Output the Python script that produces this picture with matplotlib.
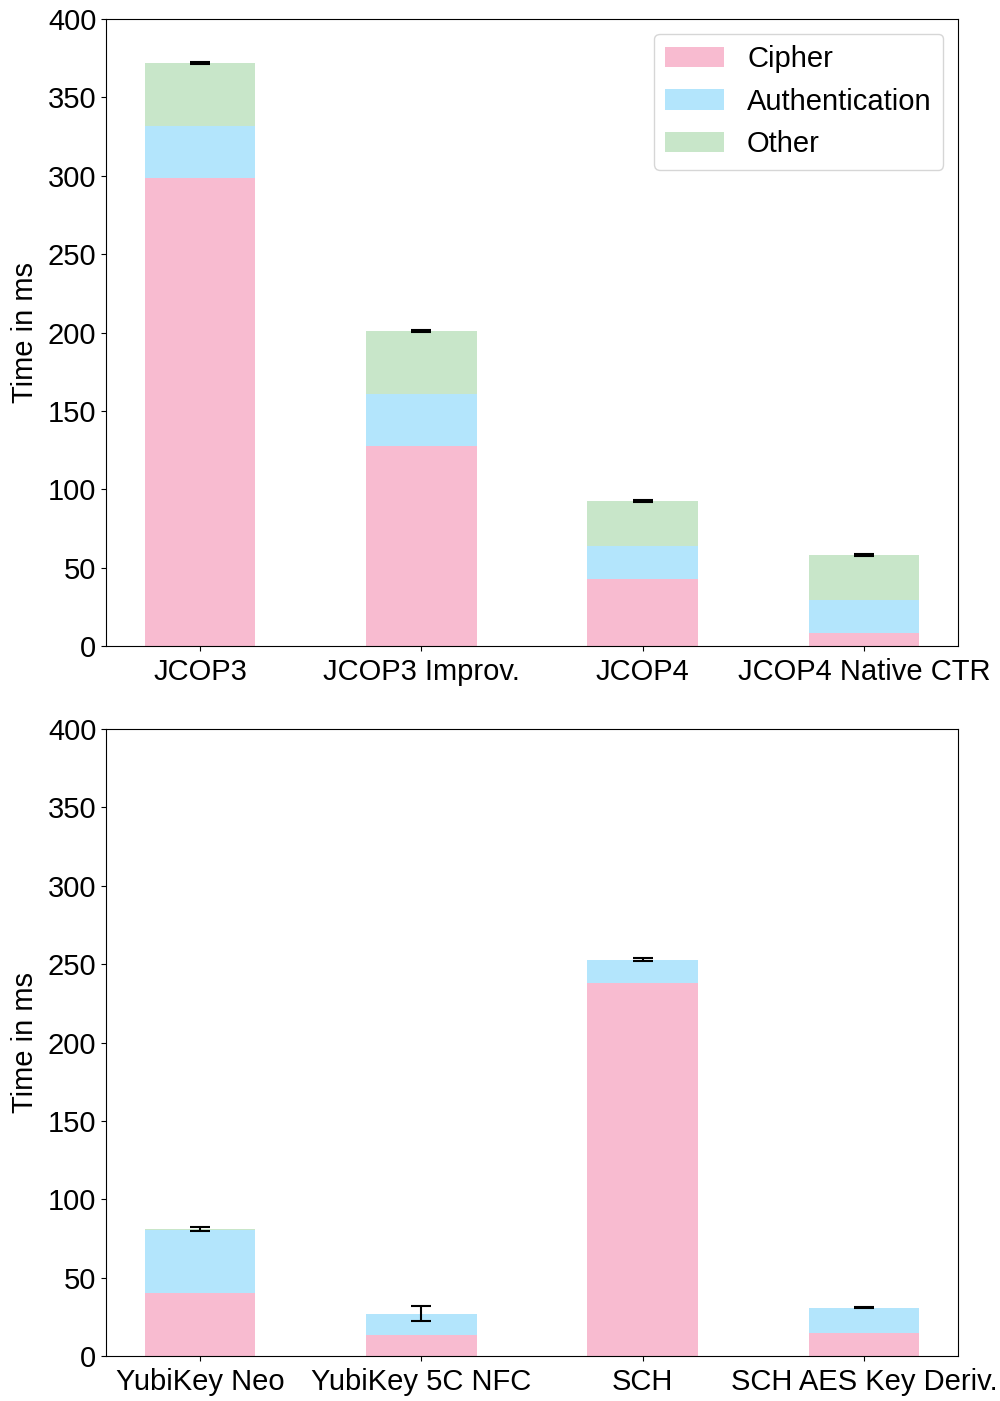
import matplotlib
matplotlib.use("Agg")
import matplotlib.pyplot as plt
import numpy as np

plt.rcParams["font.family"] = ["Liberation Sans", "DejaVu Sans"]
plt.rcParams["font.size"] = 21

# top panel: smart cards
cards = ["JCOP3", "JCOP3 Improv.", "JCOP4", "JCOP4 Native CTR"]
cards_cipher = [298.6, 127.6, 42.7, 8.3]
cards_auth = [33.4, 33.4, 21.3, 21.2]
cards_other = [40.0, 40.0, 28.5, 28.5]
cards_err = [0.5, 0.5, 0.5, 0.5]

# bottom panel: tokens
tokens = ["YubiKey Neo", "YubiKey 5C NFC", "SCH", "SCH AES Key Deriv."]
tokens_cipher = [40.2, 13.4, 238.0, 14.9]
tokens_auth = [40.5, 13.3, 14.4, 15.5]
tokens_other = [0.3, 0.4, 0.4, 0.4]
tokens_err = [1.0, 5.0, 1.0, 0.4]

C_CIPHER = "#f8bbd0"
C_AUTH = "#b3e5fc"
C_OTHER = "#c8e6c9"


def stacked(ax, labels, cipher, auth, other, err):
    x = np.arange(len(labels))
    cipher = np.array(cipher)
    auth = np.array(auth)
    other = np.array(other)
    w = 0.5
    ax.bar(x, cipher, w, color=C_CIPHER, label="Cipher")
    ax.bar(x, auth, w, bottom=cipher, color=C_AUTH, label="Authentication")
    ax.bar(x, other, w, bottom=cipher + auth, color=C_OTHER, label="Other")
    total = cipher + auth + other
    ax.errorbar(x, total, yerr=err, fmt="none", ecolor="black",
                capsize=7, elinewidth=1.5, capthick=1.5)
    ax.set_xticks(x)
    ax.set_xticklabels(labels)
    ax.tick_params(axis="x", pad=5)
    ax.set_ylim(0, 400)
    ax.set_ylabel("Time in ms", labelpad=6)


fig = plt.figure(figsize=(10, 14.01), dpi=100)
ax0 = fig.add_axes([0.106, 1 - 646 / 1401, 0.852, 627 / 1401])
ax1 = fig.add_axes([0.106, 1 - 1356 / 1401, 0.852, 627 / 1401])

stacked(ax0, cards, cards_cipher, cards_auth, cards_other, cards_err)
stacked(ax1, tokens, tokens_cipher, tokens_auth, tokens_other, tokens_err)
ax0.legend(loc="upper right")

fig.savefig("out.png", dpi=100)
